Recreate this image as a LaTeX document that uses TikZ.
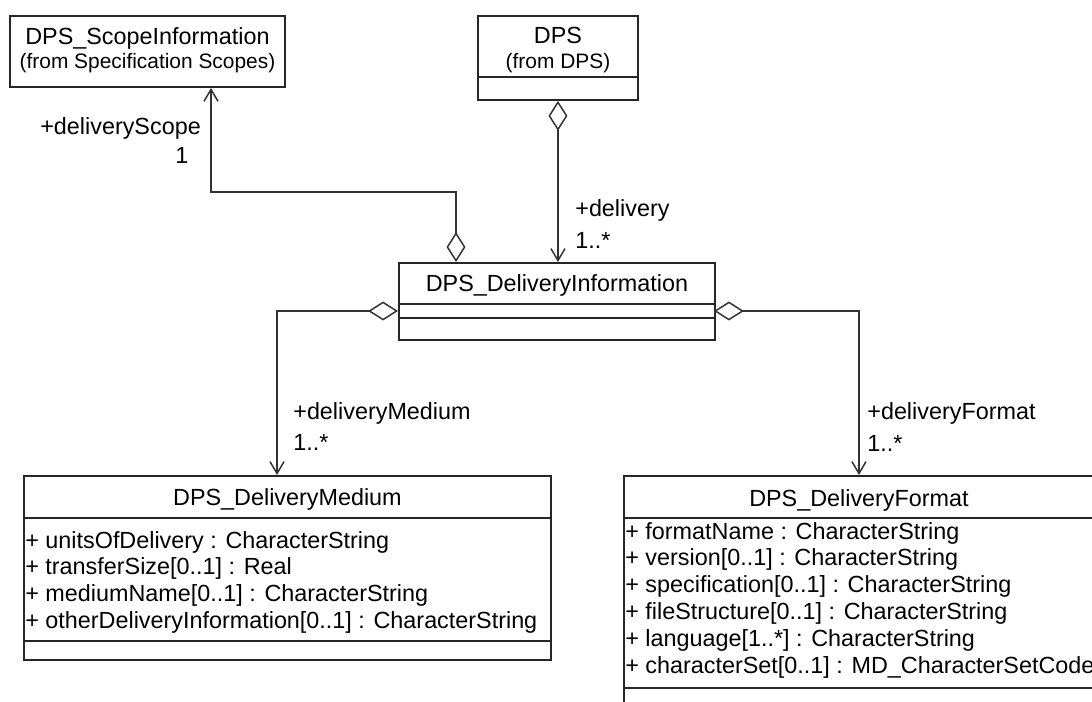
\documentclass[tikz,border=0pt]{standalone}
\usepackage{fontspec}
\setmainfont{Liberation Sans}
\usetikzlibrary{arrows.meta,positioning}
\newlength\px
\setlength\px{0.02cm}
\tikzset{
  umlbox/.style={draw=black!85, line width=1.1pt, anchor=north west, inner sep=0pt},
  umlline/.style={draw=black!85, line width=0.9pt},
  cname/.style={font=\fontsize{13.3}{16}\selectfont, inner sep=0pt},
  cfrom/.style={font=\fontsize{11.9}{14}\selectfont, inner sep=0pt},
  attr/.style={font=\fontsize{13.3}{16}\selectfont, inner sep=0pt, anchor=west},
  role/.style={font=\fontsize{13.3}{16}\selectfont, inner sep=0pt, anchor=west},
  agg/.style={draw=black!80, line width=0.85pt,
    {Diamond[open,length=17pt,width=10.8pt]}-{Straight Barb[length=6.8pt,width=8pt]}},
}
\begin{document}
\begin{tikzpicture}[x=0.02cm, y=-0.02cm]
	\useasboundingbox (0,0) rectangle (1092,702);
	\clip (0,0) rectangle (1092,702);
	% classes
	\node[umlbox, minimum width=275*\px, minimum height=71*\px] (scope) at (9,15) {};
	\node[umlbox, minimum width=160*\px, minimum height=84*\px] (dps) at (477,15) {};
	\node[umlbox, minimum width=316*\px, minimum height=77*\px] (info) at (398,262) {};
	\node[umlbox, minimum width=527*\px, minimum height=184*\px] (medium) at (23,475) {};
	\node[umlbox, minimum width=470*\px, minimum height=260*\px] (format) at (623,475) {};
	% compartments
	\draw[umlline] (dps.north west) ++(0,62) -- ++(160,0);
	\draw[umlline] (info.north west) ++(0,42) -- ++(316,0);
	\draw[umlline] (info.north west) ++(0,56) -- ++(316,0);
	\draw[umlline] (medium.north west) ++(0,43) -- ++(527,0);
	\draw[umlline] (medium.north west) ++(0,166) -- ++(527,0);
	\draw[umlline] (format.north west) ++(0,43) -- ++(470,0);
	\draw[umlline] (format.north west) ++(0,213) -- ++(470,0);
	% names
	\path (scope.north) ++(0,23) node[cname] (scopename) {DPS\_ScopeInformation}
		++(0,25) node[cfrom] (scopefrom) {(from Specification Scopes)};
	\path (dps.north) ++(0,20) node[cname] (dpsname) {DPS}
		++(0,28) node[cfrom] (dpsfrom) {(from DPS)};
	\path (info.north) ++(0,23) node[cname] (infoname) {DPS\_DeliveryInformation};
	\path (medium.north) ++(0,24) node[cname] (mediumname) {DPS\_DeliveryMedium};
	\path (format.north) ++(0,25) node[cname] (formatname) {DPS\_DeliveryFormat};
	% attributes
	\foreach \t [count=\i from 0] in {{+ unitsOfDelivery : CharacterString},
		{+ transferSize[0..1] : Real}, {+ mediumName[0..1] : CharacterString},
		{+ otherDeliveryInformation[0..1] : CharacterString}}
		\path (medium.north west) ++(2,{67+26.7*\i}) node[attr] {\t};
	\foreach \t [count=\i from 0] in {{+ formatName : CharacterString},
		{+ version[0..1] : CharacterString}, {+ specification[0..1] : CharacterString},
		{+ fileStructure[0..1] : CharacterString}, {+ language[1..*] : CharacterString},
		{+ characterSet[0..1] : MD\_CharacterSetCode}}
		\path (format.north west) ++(2,{58+26.8*\i}) node[attr] {\t};
	% associations
	\coordinate (scopefoot) at (456,262);
	\coordinate (scopebend) at (211,192);
	\coordinate (medfoot) at (398,311);
	\coordinate (medbend) at (277,311);
	\coordinate (fmtfoot) at (714,311);
	\draw[agg] (scopefoot) |- (scopebend) -- (scopebend |- scope.south);
	\draw[agg] (dps.south) -- (dps.south |- info.north);
	\draw[agg] (medfoot) -- (medbend) -- (medbend |- medium.north);
	\draw[agg] (fmtfoot) -| (format.north);
	% roles
	\node[role] (scoperole) at (40,128) {+deliveryScope};
	\node[role] (scopemult) at (175,155) {1};
	\node[role] (dpsrole) at (575,210) {+delivery};
	\node[role] (dpsmult) at (575,240) {1..*};
	\node[role] (medrole) at (293,413) {+deliveryMedium};
	\node[role] (medmult) at (293,442) {1..*};
	\node[role] (fmtrole) at (867,413) {+deliveryFormat};
	\node[role] (fmtmult) at (867,443) {1..*};
\end{tikzpicture}
\end{document}
